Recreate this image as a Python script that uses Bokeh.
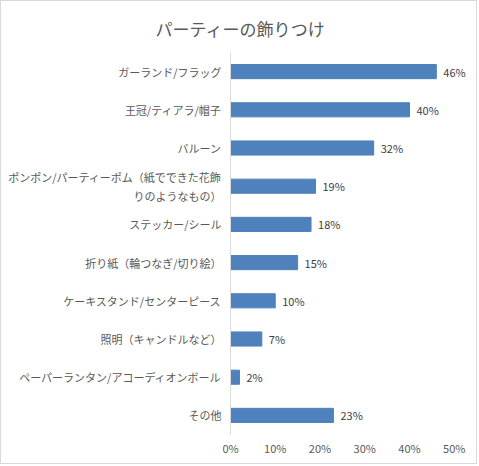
from bokeh.plotting import figure
from bokeh.models import FactorRange, Range1d, FixedTicker, ColumnDataSource
from bokeh.core.properties import value
from bokeh.embed import file_html
from bokeh.resources import INLINE

title_text = "パーティーの飾りつけ"
categories = [
    "ガーランド/フラッグ",
    "王冠/ティアラ/帽子",
    "バルーン",
    "ポンポン/パーティーポム（紙でできた花飾\nりのようなもの）",
    "ステッカー/シール",
    "折り紙（輪つなぎ/切り絵）",
    "ケーキスタンド/センターピース",
    "照明（キャンドルなど）",
    "ペーパーランタン/アコーディオンボール",
    "その他",
]
values = [46, 40, 32, 19, 18, 15, 10, 7, 2, 23]
tick_values = [0, 10, 20, 30, 40, 50]
tick_labels = ["0%", "10%", "20%", "30%", "40%", "50%"]

FONT = "Noto Sans CJK JP"

src = ColumnDataSource(dict(cat=categories, val=values,
                            lab=[f"{v}%" for v in values]))

p = figure(width=477, height=464, output_backend="svg", toolbar_location=None,
           y_range=FactorRange(factors=list(reversed(categories))),
           x_range=Range1d(0, 55.2),
           title=title_text,
           min_border_left=229, min_border_right=1, min_border_top=51,
           min_border_bottom=31)
p.styles = {"border": "1px solid #d9d9d9"}
p.outline_line_color = None
p.grid.visible = False
p.title.align = "left"
p.title.offset = -75
p.title.standoff = 23
p.title.text_font = FONT
p.title.text_font_size = "17px"
p.title.text_font_style = "normal"
p.title.text_color = "#595959"

p.hbar(y="cat", right="val", left=0, height=0.37, color="#4f81bd", source=src)
p.text(x="val", y="cat", text="lab", source=src, x_offset=7,
       text_baseline="middle", text_align="left", text_font=value(FONT),
       text_font_size="11px", text_color="#404040")

p.xaxis.ticker = FixedTicker(ticks=tick_values)
p.xaxis.major_label_overrides = {t: l for t, l in zip(tick_values, tick_labels)}
p.xaxis.axis_line_color = None
p.xaxis.major_tick_line_color = None
p.xaxis.minor_tick_line_color = None
p.xaxis.major_tick_out = 0
p.xaxis.major_tick_in = 0
p.xaxis.minor_tick_out = 0
p.xaxis.major_label_standoff = 5
p.xaxis.major_label_text_font = FONT
p.xaxis.major_label_text_font_size = "11px"
p.xaxis.major_label_text_color = "#595959"

p.yaxis.axis_line_color = "#d9d9d9"
p.yaxis.major_tick_line_color = None
p.yaxis.minor_tick_line_color = None
p.yaxis.major_tick_out = 0
p.yaxis.major_tick_in = 0
p.yaxis.minor_tick_out = 0
p.yaxis.major_label_standoff = 9
p.yaxis.major_label_text_font = FONT
p.yaxis.major_label_text_font_size = "11px"
p.yaxis.major_label_text_color = "#595959"

open("out.html", "w").write(file_html(p, INLINE))
